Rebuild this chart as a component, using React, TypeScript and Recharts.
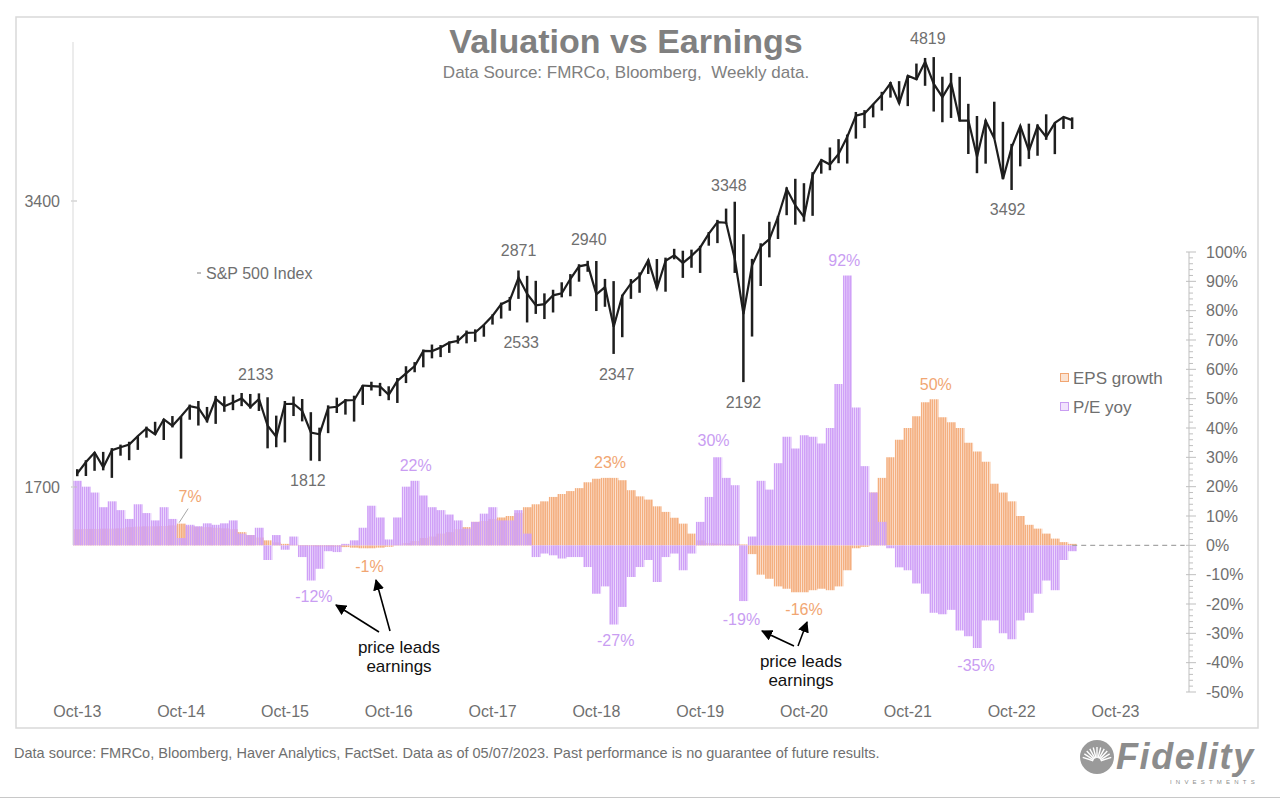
import React from 'react';
import { ComposedChart, Bar, Line, XAxis, YAxis, ReferenceLine, ReferenceDot } from 'recharts';

// ---------- categories ----------
const MONTH_NAMES = ['Jan', 'Feb', 'Mar', 'Apr', 'May', 'Jun', 'Jul', 'Aug', 'Sep', 'Oct', 'Nov', 'Dec'];
// monthly categories Oct-2013 .. Jun-2024
const CATEGORIES: string[] = Array.from({ length: 129 }, (_, k) => {
  const m = (9 + k) % 12;
  const y = 13 + Math.floor((9 + k) / 12);
  return `${MONTH_NAMES[m]}-${y}`;
});
const X_TICKS = ['Oct-13', 'Oct-14', 'Oct-15', 'Oct-16', 'Oct-17', 'Oct-18', 'Oct-19', 'Oct-20', 'Oct-21', 'Oct-22', 'Oct-23'];
const LEFT_TICKS = [1700, 3400];
const RIGHT_TICKS: number[] = Array.from({ length: 76 }, (_, k) => -50 + k * 2);

// ---------- S&P 500 monthly (Oct-13 .. May-23) ----------
const SPX_HIGH = [
  1775, 1814, 1849, 1851, 1868, 1884, 1897, 1924, 1968, 1991, 2005, 2019,
  2018, 2076, 2094, 2064, 2120, 2118, 2126, 2135, 2130, 2133, 2113, 2021,
  2094, 2117, 2104, 2038, 1963, 2072, 2111, 2104, 2121, 2177, 2194, 2188,
  2170, 2214, 2278, 2301, 2372, 2401, 2398, 2419, 2454, 2484, 2491, 2519,
  2583, 2658, 2695, 2873, 2836, 2802, 2718, 2742, 2792, 2848, 2917, 2941,
  2940, 2815, 2800, 2709, 2814, 2860, 2950, 2954, 2964, 3028, 3014, 3022,
  3050, 3154, 3248, 3338, 3394, 3137, 2955, 3069, 3233, 3280, 3515, 3588,
  3550, 3646, 3760, 3871, 3950, 3994, 4219, 4238, 4302, 4430, 4537, 4546,
  4608, 4744, 4809, 4819, 4595, 4637, 4594, 4303, 4178, 4140, 4325, 4119,
  3905, 4080, 4101, 4094, 4195, 4111, 4170, 4164,
];
const SPX_LOW = [
  1745, 1746, 1768, 1770, 1738, 1834, 1814, 1860, 1916, 1930, 1905, 1964,
  1821, 2001, 1973, 1988, 1981, 2040, 2048, 2068, 2056, 2044, 1867, 1872,
  1894, 2019, 1993, 1812, 1810, 1937, 2034, 2026, 1992, 2074, 2148, 2119,
  2098, 2084, 2187, 2245, 2272, 2322, 2329, 2353, 2406, 2408, 2417, 2447,
  2520, 2557, 2606, 2682, 2533, 2586, 2554, 2595, 2692, 2699, 2796, 2864,
  2604, 2631, 2347, 2444, 2682, 2722, 2849, 2751, 2729, 2952, 2822, 2892,
  2856, 3051, 3070, 3215, 2856, 2192, 2448, 2767, 2966, 3101, 3285, 3210,
  3234, 3280, 3633, 3663, 3726, 3723, 3955, 4057, 4164, 4233, 4368, 4306,
  4279, 4560, 4495, 4223, 4115, 4158, 4124, 3810, 3637, 3722, 3955, 3584,
  3492, 3698, 3765, 3794, 3943, 3809, 4049, 4048,
];
const SPX_CLOSE = [
  1757, 1806, 1848, 1783, 1859, 1872, 1884, 1924, 1960, 1931, 2003, 1972,
  2018, 2068, 2059, 1995, 2105, 2068, 2086, 2107, 2063, 2104, 1972, 1920,
  2079, 2080, 2044, 1940, 1932, 2060, 2065, 2097, 2099, 2174, 2171, 2168,
  2126, 2199, 2239, 2279, 2364, 2363, 2384, 2412, 2423, 2470, 2472, 2519,
  2575, 2648, 2674, 2824, 2714, 2641, 2648, 2705, 2718, 2816, 2902, 2914,
  2712, 2760, 2507, 2704, 2784, 2834, 2946, 2752, 2942, 2980, 2926, 2977,
  3038, 3141, 3231, 3226, 2954, 2585, 2912, 3044, 3100, 3271, 3500, 3363,
  3270, 3622, 3756, 3714, 3811, 3973, 4181, 4204, 4298, 4395, 4523, 4308,
  4605, 4567, 4766, 4516, 4374, 4530, 4132, 4132, 3785, 4130, 3955, 3586,
  3872, 4080, 3840, 4077, 3970, 4109, 4169, 4136,
];

// ---------- EPS growth (%) ----------
const EPS_GROWTH = [
  5.5, 5.6, 5.6, 5.7, 5.7, 5.8, 6.2, 6.4, 6.5, 6.5, 6.6, 6.8,
  7.4, 6.5, 6.3, 6.2, 6.0, 5.8, 5.5, 4.5, 3.5, 2.7, 1.7, 1.0,
  0.5, 0.2, -0.2, -0.3, -0.4, -0.4, -0.5, -0.6, -0.8, -1.0, -1.0, -0.8,
  -0.5, 0.2, 0.8, 1.5, 2.5, 3.0, 4.0, 4.5, 5.5, 6.2, 8.0, 8.3,
  9.0, 9.5, 10.0, 11.0, 13.0, 14.0, 15.0, 16.5, 17.5, 18.5, 19.5, 21.5,
  22.7, 23.0, 23.0, 22.2, 18.8, 16.7, 15.6, 13.3, 11.4, 9.4, 7.4, 4.0,
  1.7, 0.8, 0.6, 0.5, 0.5, 0.3, -3.0, -10.0, -11.4, -14.0, -14.8, -16.0,
  -16.0, -15.3, -14.8, -15.3, -14.0, -8.5, -1.0, -0.5, 18, 23, 30, 36,
  40, 44, 48.8, 49.8, 43.7, 42, 40, 35, 32, 28.5, 21, 18,
  15, 10, 7, 5.7, 4, 2.3, 1.1, 0.5,
];
// ---------- P/E yoy (%) ----------
const PE_YOY = [
  22, 20, 18, 13, 15, 12, 9, 14, 11, 8.5, 13, 9,
  2.5, 7, 6.5, 7.5, 7, 7.5, 8.5, 4, 3.5, 6, -5, 3.5,
  -1.5, 3, -4, -12, -8, -2, -2.3, 0.5, 1.7, 6, 13.5, 9.5,
  2, 9.5, 20, 22, 17, 13, 12, 10.5, 8.5, 5.7, 8, 10.8,
  13, 8.5, 8.5, 12, 4, -4, -2.8, -3.4, -4.5, -4, -4, -7.4,
  -16.5, -14, -27, -21, -10.8, -7.4, -5, -12.5, -4, -2.8, -8.5, -2.8,
  8, 16.5, 30, 23, 20.5, -19, 3, 22, 19, 28, 37, 33,
  37.5, 37, 34.7, 40, 55, 92, 47, 27, 18, 8, -1, -7.5,
  -8.5, -13, -16.5, -23, -23.5, -22, -29, -31, -35, -25.6, -25.6, -30,
  -32, -25.6, -23, -16.5, -12, -15.3, -5, -2,
];

// annotations: [category index, label, dx, dy, anchor]
const SPX_NOTES: [number, string, number, number, 'high' | 'low'][] = [
  [99, '4819', -6, -19, 'high'],
  [76, '3348', -6, -16, 'high'],
  [108, '3492', -4, 20, 'low'],
  [51, '2871', 0, -20, 'high'],
  [59, '2940', 1, -21, 'high'],
  [52, '2533', -6, 20, 'low'],
  [62, '2347', 3, 21, 'low'],
  [77, '2192', 0, 20, 'low'],
  [19, '2133', 14, -18, 'high'],
  [27, '1812', -3, 20, 'low'],
];
const PCT_NOTES: [number, string, number, number, 'eps' | 'pe'][] = [
  [12, '7%', 9, -27, 'eps'],
  [39, '22%', 1, -15, 'pe'],
  [61, '23%', 5, -15, 'eps'],
  [74, '30%', -4, -17, 'pe'],
  [89, '92%', -3, -15, 'pe'],
  [99, '50%', 2, -15, 'eps'],
  [34, '-1%', -2, 18, 'eps'],
  [27, '-12%', 3, 16, 'pe'],
  [62, '-27%', 2, 16, 'pe'],
  [77, '-19%', -2, 18, 'pe'],
  [84, '-16%', 0, 17, 'eps'],
  [104, '-35%', -1, 17, 'pe'],
];

// ---------- layout ----------
const PLOT_LEFT = 73;
const PLOT_RIGHT = 1189;
const PLOT_TOP = 42;
const PLOT_BOTTOM = 692;
const BAND = (PLOT_RIGHT - PLOT_LEFT) / CATEGORIES.length;
const R_MIN = -50;
const R_PX = 440 / 150;
const R_MAX = R_MIN + (PLOT_BOTTOM - PLOT_TOP) / R_PX;
const Y3400 = 201;
const PX_PER_DOUBLING = 286;
const L_MAX = 3400 * Math.pow(2, (Y3400 - PLOT_TOP) / PX_PER_DOUBLING);
const L_MIN = 3400 * Math.pow(2, -(PLOT_BOTTOM - Y3400) / PX_PER_DOUBLING);

const ORANGE = '#F4AF80';
const PURPLE = '#CFA0F7';
const ORANGE_TXT = '#F1A672';
const PURPLE_TXT = '#C99DF2';
const GRAY_TXT = '#6f6f6f';
const FONT = "'Liberation Sans', Arial, sans-serif";

const rows = CATEGORIES.map((month, k) => ({
  month,
  spx: k < SPX_HIGH.length ? [SPX_LOW[k], SPX_HIGH[k]] : undefined,
  close: k < SPX_CLOSE.length ? SPX_CLOSE[k] : undefined,
  eps: k < EPS_GROWTH.length ? EPS_GROWTH[k] : undefined,
  pe: k < PE_YOY.length ? PE_YOY[k] : undefined,
}));

const LeftTick = (props: any) => {
  const { x, y, payload } = props;
  return (
    <g>
      <line x1={x - 2} x2={x + 4} y1={y} y2={y} stroke="#bfbfbf" />
      <text x={x - 13} y={y} dy="0.35em" textAnchor="end" fill={GRAY_TXT} fontSize={16} fontFamily={FONT}>
        {payload.value}
      </text>
    </g>
  );
};

const RightTick = (props: any) => {
  const { x, y, payload } = props;
  const v = payload.value as number;
  const major = v % 10 === 0;
  return (
    <g>
      <line x1={major ? x - 3 : x} x2={major ? x + 7 : x + 4} y1={y} y2={y} stroke="#bfbfbf" />
      {major && (
        <text x={x + 17} y={y} dy="0.35em" textAnchor="start" fill={GRAY_TXT} fontSize={16} fontFamily={FONT}>
          {`${v}%`}
        </text>
      )}
    </g>
  );
};

const noteShape = (text: string, color: string, dx: number, dy: number, leader = false) => (p: any) => (
  <g>
    {leader && <line x1={p.cx + dx - 2} y1={p.cy + dy + 12} x2={p.cx - 2} y2={p.cy - 1} stroke="#a6a6a6" strokeWidth={1} />}
    <text x={p.cx + dx} y={p.cy + dy} textAnchor="middle" dominantBaseline="central" fill={color} fontSize={16} fontFamily={FONT}>
      {text}
    </text>
  </g>
);

export default function App() {
  return (
    <div style={{ position: 'absolute', left: 0, top: 0, width: 1280, height: 800, background: '#fff', fontFamily: FONT }}>
      <svg width={0} height={0} style={{ position: 'absolute' }}>
        <defs>
          <pattern id="epsStripes" patternUnits="userSpaceOnUse" x={PLOT_LEFT} y={0} width={BAND / 4} height={10}>
            <rect x={0} y={0} width={BAND / 4 - 0.45} height={10} fill={ORANGE} />
          </pattern>
          <pattern id="peStripes" patternUnits="userSpaceOnUse" x={PLOT_LEFT} y={0} width={BAND / 4} height={10}>
            <rect x={0} y={0} width={BAND / 4 - 0.45} height={10} fill={PURPLE} />
          </pattern>
        </defs>
      </svg>
      <ComposedChart
        width={1280}
        height={800}
        data={rows}
        margin={{ top: PLOT_TOP, left: PLOT_LEFT - 60, right: 1280 - PLOT_RIGHT - 70, bottom: 800 - PLOT_BOTTOM - 30 }}
        barCategoryGap={0}
        barGap={0}
      >
        <XAxis
          xAxisId="a"
          dataKey="month"
          type="category"
          ticks={X_TICKS}
          interval={0}
          axisLine={false}
          tickLine={false}
          tickSize={0}
          tickMargin={14}
          height={30}
          tick={{ fill: GRAY_TXT, fontSize: 16, fontFamily: FONT }}
        />
        <XAxis xAxisId="b" dataKey="month" type="category" hide />
        <XAxis xAxisId="c" dataKey="month" type="category" hide />
        <YAxis
          yAxisId="left"
          orientation="left"
          scale="log"
          type="number"
          domain={[L_MIN, L_MAX]}
          allowDataOverflow
          ticks={LEFT_TICKS}
          interval={0}
          width={60}
          axisLine={false}
          tickLine={false}
          tickSize={0}
          tickMargin={0}
          tick={LeftTick}
        />
        <YAxis
          yAxisId="right"
          orientation="right"
          type="number"
          domain={[R_MIN, R_MAX]}
          allowDataOverflow
          ticks={RIGHT_TICKS}
          interval={0}
          width={70}
          axisLine={false}
          tickLine={false}
          tickSize={0}
          tickMargin={0}
          tick={RightTick}
        />
        <Bar xAxisId="b" yAxisId="right" dataKey="eps" fill="url(#epsStripes)" isAnimationActive={false} />
        <Bar xAxisId="a" yAxisId="right" dataKey="pe" fill="url(#peStripes)" isAnimationActive={false} />
        <ReferenceLine
          xAxisId="a"
          yAxisId="right"
          segment={[{ x: 'May-23', y: 0 }, { x: 'Jun-24', y: 0 }]}
          stroke="#a6a6a6"
          strokeDasharray="5 4"
          strokeWidth={1.2}
        />
        <Bar xAxisId="c" yAxisId="left" dataKey="spx" barSize={2.5} fill="#1e1e1e" isAnimationActive={false} />
        <Line
          xAxisId="c"
          yAxisId="left"
          dataKey="close"
          stroke="#1e1e1e"
          strokeWidth={2.2}
          dot={false}
          isAnimationActive={false}
        />
        {SPX_NOTES.map(([i, text, dx, dy, kind]) => (
          <ReferenceDot
            key={`s${i}`}
            xAxisId="a"
            yAxisId="left"
            x={CATEGORIES[i]}
            y={kind === 'high' ? SPX_HIGH[i] : SPX_LOW[i]}
            r={0}
            shape={noteShape(text, GRAY_TXT, dx, dy)}
          />
        ))}
        {PCT_NOTES.map(([i, text, dx, dy, series]) => (
          <ReferenceDot
            key={`p${i}${series}`}
            xAxisId="a"
            yAxisId="right"
            x={CATEGORIES[i]}
            y={series === 'eps' ? EPS_GROWTH[i] : PE_YOY[i]}
            r={0}
            shape={noteShape(text, series === 'eps' ? ORANGE_TXT : PURPLE_TXT, dx, dy, text === '7%')}
          />
        ))}
      </ComposedChart>

      <svg width={1280} height={800} style={{ position: 'absolute', left: 0, top: 0, pointerEvents: 'none' }}>
        <defs>
          <marker id="arrowHead" viewBox="0 0 10 10" refX={9} refY={5} markerWidth={7} markerHeight={7} orient="auto">
            <path d="M0,0 L10,5 L0,10 z" fill="#000" />
          </marker>
        </defs>
        <rect x={16} y={17} width={1242} height={711} fill="none" stroke="#d9d9d9" strokeWidth={1.5} />
        <line x1={PLOT_LEFT} x2={PLOT_LEFT} y1={PLOT_TOP} y2={545} stroke="#d9d9d9" />
        <line x1={PLOT_RIGHT} x2={PLOT_RIGHT} y1={PLOT_BOTTOM - 150 * R_PX} y2={PLOT_BOTTOM} stroke="#bfbfbf" />

        <text x={626} y={53} textAnchor="middle" fontSize={34} fontWeight="bold" fill="#808080" fontFamily={FONT}>
          Valuation vs Earnings
        </text>
        <text x={626} y={78} textAnchor="middle" fontSize={17} fill="#808080" fontFamily={FONT} style={{ whiteSpace: 'pre' }}>
          {'Data Source: FMRCo, Bloomberg,\u00A0 Weekly data.'}
        </text>

        <line x1={197} x2={201} y1={273} y2={273} stroke="#808080" />
        <text x={206} y={273} dy="0.35em" fontSize={16} fill={GRAY_TXT} fontFamily={FONT}>
          S&amp;P 500 Index
        </text>

        <rect x={1060.5} y={373.5} width={8} height={8} fill="#fbe3d2" stroke={ORANGE_TXT} />
        <text x={1073} y={378} dy="0.35em" fontSize={17} fill={GRAY_TXT} fontFamily={FONT}>
          EPS growth
        </text>
        <rect x={1060.5} y={402.5} width={8} height={8} fill="#f1e3fd" stroke={PURPLE_TXT} />
        <text x={1073} y={407} dy="0.35em" fontSize={17} fill={GRAY_TXT} fontFamily={FONT}>
          P/E yoy
        </text>

        <g stroke="#000" strokeWidth={1.6} markerEnd="url(#arrowHead)">
          <line x1={379} y1={632} x2={336} y2={605} />
          <line x1={390} y1={631} x2={376} y2={580} />
          <line x1={794} y1={646} x2={762} y2={631} />
          <line x1={798} y1={646} x2={807} y2={622} />
        </g>
        <g fontSize={17} fill="#111" textAnchor="middle" fontFamily={FONT}>
          <text x={399} y={647} dy="0.35em">price leads</text>
          <text x={399} y={666} dy="0.35em">earnings</text>
          <text x={801} y={661} dy="0.35em">price leads</text>
          <text x={801} y={680} dy="0.35em">earnings</text>
        </g>

        <text x={14} y={758} fontSize={14.5} fill={GRAY_TXT} fontFamily={FONT}>
          Data source: FMRCo, Bloomberg, Haver Analytics, FactSet. Data as of 05/07/2023. Past performance is no guarantee of future results.
        </text>

        <g>
          <circle cx={1097} cy={757} r={17} fill="#9a9a9a" />
          {Array.from({ length: 11 }, (_, k) => {
            const a = Math.PI * (0.1 + (0.8 * k) / 10);
            return (
              <line
                key={k}
                x1={1097 + Math.cos(a) * 4}
                y1={762 - Math.sin(a) * 4}
                x2={1097 + Math.cos(a) * 15}
                y2={762 - Math.sin(a) * 15}
                stroke="#fff"
                strokeWidth={1.4}
              />
            );
          })}
          <text x={1116} y={769} fontSize={36} letterSpacing={1.6} fontWeight="bold" fontStyle="italic" fill="#8c8c8c" fontFamily={FONT}>
            Fidelity
          </text>
          <text x={1170} y={784} fontSize={6} letterSpacing={4.2} fill="#8c8c8c" fontFamily={FONT}>
            INVESTMENTS
          </text>
        </g>
        <line x1={0} x2={1280} y1={797.5} y2={797.5} stroke="#c8c8c8" />
      </svg>
    </div>
  );
}
